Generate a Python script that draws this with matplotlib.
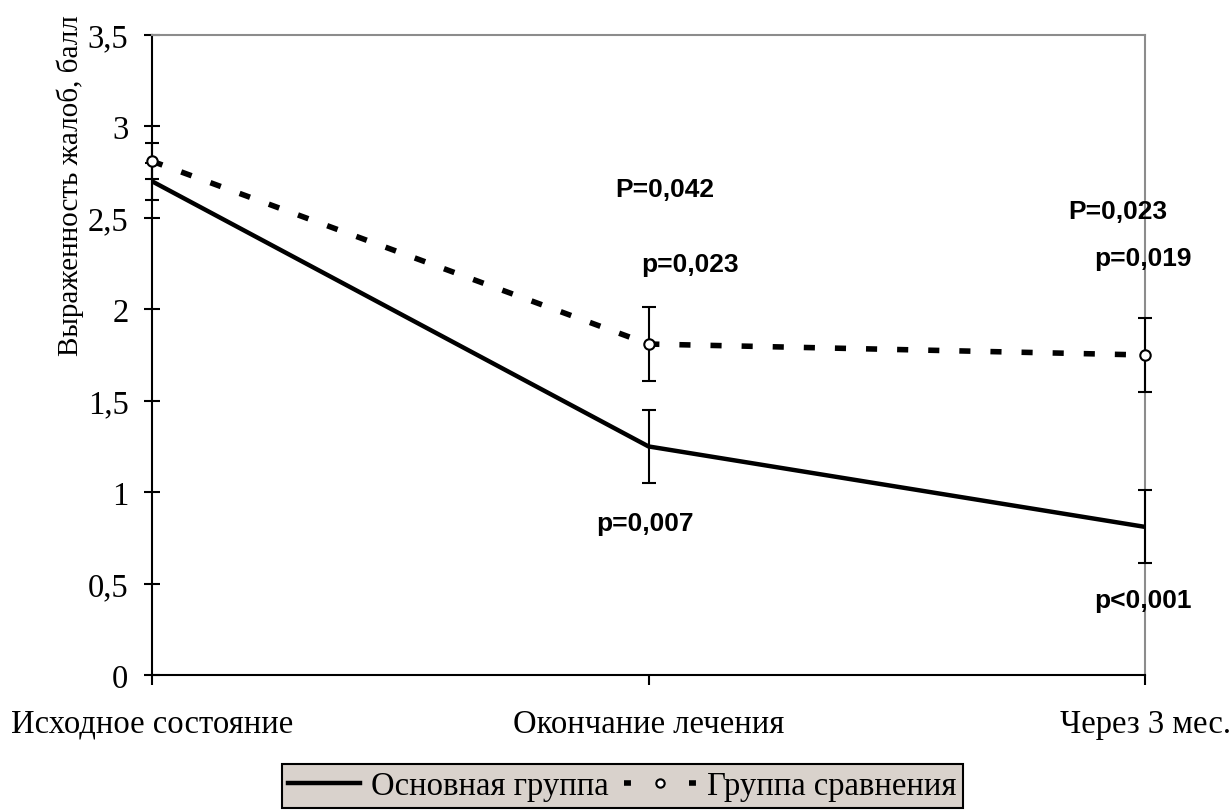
import numpy as np
from matplotlib import pyplot as plt
from matplotlib.lines import Line2D

categories = ["Исходное состояние", "Окончание лечения", "Через 3 мес."]
main_group = [2.70, 1.25, 0.81]
main_err = [0.10, 0.20, 0.20]
comp_group = [2.81, 1.81, 1.75]
comp_err = [0.10, 0.20, 0.20]

# p-value notes: (text, x, y)
notes = [
    ("P=0,042", 1.032, 2.66),
    ("p=0,023", 1.084, 2.25),
    ("p=0,007", 0.993, 0.83),
    ("P=0,023", 1.946, 2.54),
    ("p=0,019", 1.996, 2.28),
    ("p<0,001", 1.996, 0.41),
]

serif = "Liberation Serif"
sans = "Liberation Sans"

fig = plt.figure(figsize=(12.3, 8.12), dpi=100)
ax = fig.add_axes([152 / 1230, 1 - 676 / 812, (1145 - 152) / 1230, (676 - 36) / 812])

x = np.arange(len(categories))

for vals, errs in [(main_group, main_err), (comp_group, comp_err)]:
    eb = ax.errorbar(x, vals, yerr=errs, fmt="none", ecolor="black",
                     elinewidth=1.5, capsize=5, capthick=1.5, zorder=3)
    for art in eb.lines[1] + eb.lines[2]:
        art.set_clip_on(False)

ax.plot(x, main_group, color="black", lw=3.2, solid_capstyle="butt", zorder=4, clip_on=False)
ax.plot(x, comp_group, color="black", lw=4, linestyle=(0, (2, 3.6)), zorder=4, clip_on=False)
ax.plot(x, comp_group, linestyle="none", marker="o", markersize=7.5, clip_on=False,
        markerfacecolor="white", markeredgecolor="black", markeredgewidth=1.5, zorder=5)

for txt, tx, ty in notes:
    ax.text(tx, ty, txt, fontsize=19, fontweight="bold", family=sans,
            ha="center", va="center", zorder=6)

ax.set_xlim(0, 2)
ax.set_ylim(0, 3.5)
ax.set_yticks(np.arange(0, 3.51, 0.5))
ax.set_yticklabels(["0", "0,5", "1", "1,5", "2", "2,5", "3", "3,5"],
                   fontsize=23.5, family=serif)
ax.set_xticks(x)
ax.set_xticklabels(categories, fontsize=23.5, family=serif)
ax.tick_params(axis="y", direction="inout", length=12, width=1.5, pad=11)
ax.tick_params(axis="x", direction="out", length=7, width=1.5, pad=17)

for s in ["left", "bottom"]:
    ax.spines[s].set_color("black")
    ax.spines[s].set_linewidth(1.5)
for s in ["top", "right"]:
    ax.spines[s].set_color("#8c8c8c")
    ax.spines[s].set_linewidth(1.5)

fig.text(70 / 1230, 1 - 186 / 812, "Выраженность жалоб, балл", rotation=90,
         fontsize=21, family=serif, ha="center", va="center")

handles = [
    Line2D([], [], color="black", lw=3.2),
    Line2D([], [], color="black", lw=4, linestyle=(0, (1.25, 4.6)), marker="o",
           markersize=6, markerfacecolor="white", markeredgecolor="black",
           markeredgewidth=1.5),
]
leg = fig.legend(handles, ["Основная группа", "Группа сравнения"], loc="lower center",
                 bbox_to_anchor=(0.506, 0.0), ncol=2, frameon=True, fancybox=False,
                 prop={"family": serif, "size": 23.5}, handlelength=2.2,
                 handletextpad=0.35, columnspacing=0.45, borderpad=0.2,
                 borderaxespad=0.1)
leg.get_frame().set_facecolor("#d9d2cc")
leg.get_frame().set_edgecolor("black")
leg.get_frame().set_linewidth(1.5)
leg.get_frame().set_alpha(1)

fig.savefig("out.png", dpi=100)
